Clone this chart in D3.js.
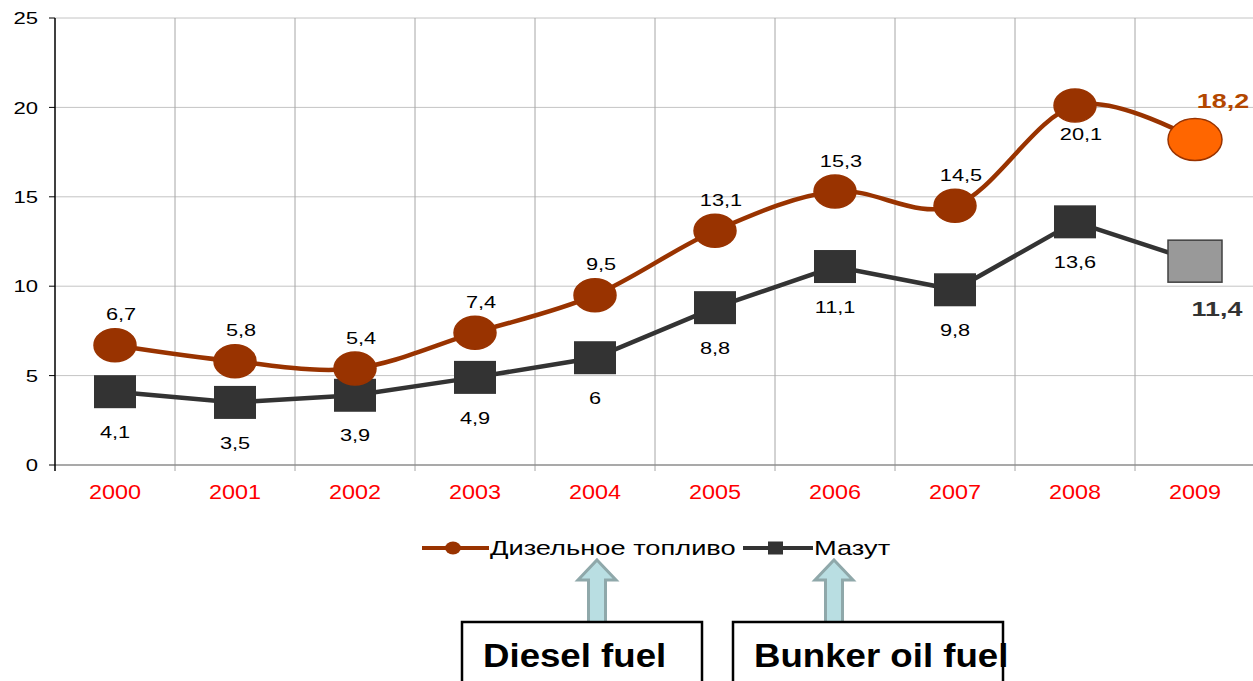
<!DOCTYPE html>
<html>
<head>
<meta charset="utf-8">
<script src="https://cdn.jsdelivr.net/npm/d3@7"></script>
<style>
  body { margin: 0; background: #fff; }
  svg { display: block; font-family: "Liberation Sans", Arial, sans-serif; }
</style>
</head>
<body>
<div id="chart"></div>
<script>
// data
const years = ["2000", "2001", "2002", "2003", "2004", "2005", "2006", "2007", "2008", "2009"];
const diesel = [6.7, 5.8, 5.4, 7.4, 9.5, 13.1, 15.3, 14.5, 20.1, 18.2];
const mazut = [4.1, 3.5, 3.9, 4.9, 6, 8.8, 11.1, 9.8, 13.6, 11.4];
const yTicks = [0, 5, 10, 15, 20, 25];
const seriesNames = ["Дизельное топливо", "Мазут"];
const noteLabels = ["Diesel fuel", "Bunker oil fuel"];

const W = 1253, H = 681;
const margin = { top: 18, right: -2, bottom: 216, left: 55 };

const svg = d3.select("#chart").append("svg")
    .attr("width", W)
    .attr("height", H);

const x = d3.scaleBand()
    .domain(years)
    .range([margin.left, W - margin.right]);

const y = d3.scaleLinear()
    .domain([0, 25])
    .range([H - margin.bottom, margin.top]);

const cx = d => x(d) + x.bandwidth() / 2;
const fmt = v => String(v).replace(".", ",");
const last = years.length - 1;

// the original text is drawn horizontally stretched
function place(sel, fx, fy, sx) {
    sel.attr("transform", (d, i) => `translate(${fx(d, i)},${fy(d, i)}) scale(${sx},1)`);
}

// horizontal gridlines
svg.append("g")
    .selectAll("line")
    .data(yTicks.slice(1))
    .join("line")
    .attr("x1", margin.left).attr("x2", W)
    .attr("y1", d => y(d)).attr("y2", d => y(d))
    .attr("stroke", "#c4c4c4").attr("stroke-width", 1);

// vertical gridlines at band edges
svg.append("g")
    .selectAll("line")
    .data(years.slice(1))
    .join("line")
    .attr("x1", d => x(d)).attr("x2", d => x(d))
    .attr("y1", y(25)).attr("y2", y(0) + 6)
    .attr("stroke", "#a6a6a6").attr("stroke-width", 1);

// x axis
svg.append("line")
    .attr("x1", margin.left).attr("x2", W)
    .attr("y1", y(0)).attr("y2", y(0))
    .attr("stroke", "#8c8c8c").attr("stroke-width", 1.5);

svg.append("g")
    .selectAll("text")
    .data(years)
    .join("text")
    .call(place, d => cx(d), () => y(0) + 34, 1.2)
    .attr("text-anchor", "middle")
    .attr("font-size", 19.5)
    .attr("fill", "#ff0000")
    .text(d => d);

// y axis
svg.append("line")
    .attr("x1", margin.left).attr("x2", margin.left)
    .attr("y1", y(25)).attr("y2", y(0) + 6)
    .attr("stroke", "#000").attr("stroke-width", 1.5);

const yAxis = svg.append("g");
yAxis.selectAll("line")
    .data(yTicks)
    .join("line")
    .attr("x1", margin.left - 6).attr("x2", margin.left)
    .attr("y1", d => y(d)).attr("y2", d => y(d))
    .attr("stroke", "#000");
yAxis.selectAll("text")
    .data(yTicks)
    .join("text")
    .call(place, () => 38, d => y(d), 1.3)
    .attr("dy", "0.36em")
    .attr("text-anchor", "end")
    .attr("font-size", 17)
    .text(d => d);

// lines
const dieselLine = d3.line()
    .x((d, i) => cx(years[i]))
    .y(d => y(d))
    .curve(d3.curveCatmullRom.alpha(0));

const mazutLine = d3.line()
    .x((d, i) => cx(years[i]))
    .y(d => y(d));

svg.append("path")
    .attr("d", mazutLine(mazut))
    .attr("fill", "none")
    .attr("stroke", "#333333")
    .attr("stroke-width", 4.5);

svg.append("path")
    .attr("d", dieselLine(diesel))
    .attr("fill", "none")
    .attr("stroke", "#993300")
    .attr("stroke-width", 4.5);

// mazut markers
svg.append("g")
    .selectAll("rect")
    .data(mazut)
    .join("rect")
    .attr("x", (d, i) => cx(years[i]) - (i === last ? 27 : 21))
    .attr("y", (d, i) => y(d) - (i === last ? 21 : 16.5))
    .attr("width", (d, i) => i === last ? 54 : 42)
    .attr("height", (d, i) => i === last ? 42 : 33)
    .attr("fill", (d, i) => i === last ? "#999999" : "#333333")
    .attr("stroke", (d, i) => i === last ? "#404040" : "none")
    .attr("stroke-width", 1.5);

// diesel markers
svg.append("g")
    .selectAll("ellipse")
    .data(diesel)
    .join("ellipse")
    .attr("cx", (d, i) => cx(years[i]))
    .attr("cy", d => y(d))
    .attr("rx", (d, i) => i === last ? 27 : 21)
    .attr("ry", (d, i) => i === last ? 21 : 16.5)
    .attr("fill", (d, i) => i === last ? "#ff6600" : "#993300")
    .attr("stroke", "#993300")
    .attr("stroke-width", 1.5);

// data labels
svg.append("g")
    .selectAll("text")
    .data(diesel)
    .join("text")
    .call(place,
        (d, i) => cx(years[i]) + (i === last ? 28 : 6),
        (d, i) => y(d) + (i === last ? -39 : i === 8 ? 28 : -31),
        1.28)
    .attr("dy", "0.36em")
    .attr("text-anchor", "middle")
    .attr("font-size", (d, i) => i === last ? 21 : 17)
    .attr("font-weight", (d, i) => i === last ? "bold" : "normal")
    .attr("fill", (d, i) => i === last ? "#b34700" : "#000")
    .text(d => fmt(d));

svg.append("g")
    .selectAll("text")
    .data(mazut)
    .join("text")
    .call(place,
        (d, i) => cx(years[i]) + (i === last ? 22 : 0),
        (d, i) => y(d) + (i === last ? 47 : 40),
        1.28)
    .attr("dy", "0.36em")
    .attr("text-anchor", "middle")
    .attr("font-size", (d, i) => i === last ? 21 : 17)
    .attr("font-weight", (d, i) => i === last ? "bold" : "normal")
    .attr("fill", (d, i) => i === last ? "#333333" : "#000")
    .text(d => fmt(d));

// legend
const legY = 548;
const leg = svg.append("g");
leg.append("line")
    .attr("x1", 422).attr("x2", 489).attr("y1", legY).attr("y2", legY)
    .attr("stroke", "#993300").attr("stroke-width", 4);
leg.append("ellipse")
    .attr("cx", 453).attr("cy", legY).attr("rx", 8).attr("ry", 6.5)
    .attr("fill", "#993300");
leg.append("text")
    .call(place, () => 490, () => legY, 1.33)
    .attr("dy", "0.36em")
    .attr("font-size", 20.5)
    .text(seriesNames[0]);
leg.append("line")
    .attr("x1", 743).attr("x2", 813).attr("y1", legY).attr("y2", legY)
    .attr("stroke", "#333333").attr("stroke-width", 4);
leg.append("rect")
    .attr("x", 768).attr("y", legY - 6.5).attr("width", 15).attr("height", 13)
    .attr("fill", "#333333");
leg.append("text")
    .call(place, () => 814, () => legY, 1.33)
    .attr("dy", "0.36em")
    .attr("font-size", 20.5)
    .text(seriesNames[1]);

// annotation arrows and boxes
function upArrow(xc) {
    const top = 560, neck = 580, bot = 624;
    const pts = [
        [xc, top], [xc + 19, neck], [xc + 8.5, neck], [xc + 8.5, bot],
        [xc - 8.5, bot], [xc - 8.5, neck], [xc - 19, neck]
    ];
    svg.append("path")
        .attr("d", d3.line()(pts) + "Z")
        .attr("fill", "#b9dee2")
        .attr("stroke", "#8fa8aa")
        .attr("stroke-width", 3);
}
upArrow(597);
upArrow(834);

const boxes = [
    { x: 462, w: 240, label: noteLabels[0] },
    { x: 733, w: 270, label: noteLabels[1] }
];
boxes.forEach(b => {
    svg.append("rect")
        .attr("x", b.x).attr("y", 622)
        .attr("width", b.w).attr("height", 80)
        .attr("fill", "#fff")
        .attr("stroke", "#000")
        .attr("stroke-width", 2.5);
    svg.append("text")
        .attr("transform", `translate(${b.x + 21},667) scale(1.11,1)`)
        .attr("font-size", 33)
        .attr("font-weight", "bold")
        .attr("fill", "#000")
        .text(b.label);
});
</script>
</body>
</html>
